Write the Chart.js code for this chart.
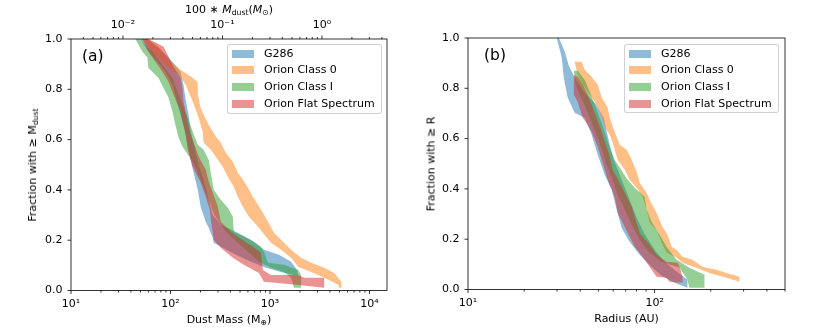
<!DOCTYPE html>
<html><head><meta charset="utf-8">
<script src="https://cdn.jsdelivr.net/npm/chart.js@4/dist/chart.umd.min.js"></script>
<style>
html,body{margin:0;padding:0;background:#fff}
body{width:830px;height:332px;overflow:hidden;position:relative;font-family:'DejaVu Sans',sans-serif;color:#000}
canvas{position:absolute;top:0}
#ca{left:0}#cb{left:415px}
.t{position:absolute;font-size:11px;white-space:nowrap;line-height:11px}
.c{transform:translateX(-50%)}
.r{transform:translate(-50%,-50%) rotate(-90deg)}
.sub{font-size:70%;position:relative;top:0.3em}
.pl{position:absolute;font-size:15.5px;line-height:16px}
.leg{position:absolute;border:1px solid rgba(204,204,204,0.9);border-radius:3px;background:rgba(255,255,255,0.8);box-sizing:border-box}
.row{position:absolute;left:0;height:12px;width:100%}
.sw{position:absolute;left:4px;width:22px;height:8px;top:2px}
.lt{position:absolute;left:36px;top:0;font-size:11px;line-height:12px;white-space:nowrap}
</style></head>
<body>
<canvas id="ca" width="415" height="332"></canvas>
<canvas id="cb" width="415" height="332"></canvas>

<div class="t c" style="left:229px;top:4px">100 ∗ <i>M</i><span class="sub">dust</span>(<i>M</i><span class="sub">⊙</span>)</div>
<div class="t r" style="left:33px;top:165px">Fraction with ≥ M<span class="sub">dust</span></div>
<div class="t c" style="left:229px;top:314px">Dust Mass (M<span class="sub">⊕</span>)</div>
<div class="pl" style="left:82px;top:48px">(a)</div>

<div class="t r" style="left:431px;top:164px">Fraction with ≥ R</div>
<div class="t c" style="left:626.5px;top:313px">Radius (AU)</div>
<div class="pl" style="left:484px;top:47px">(b)</div>

<div id="legA" class="leg" style="left:227px;top:44px;width:155px;height:70px"></div>
<div id="legB" class="leg" style="left:624px;top:44px;width:155px;height:69px"></div>

<script>
// ---------- data ----------
const seriesNames = ['G286', 'Orion Class 0', 'Orion Class I', 'Orion Flat Spectrum'];
const fractionTicks = [0, 0.2, 0.4, 0.6, 0.8, 1.0];
const massDecades = [10, 100, 1000, 10000];
const topDecades = [0.01, 0.1, 1];
const radiusDecades = [10, 100];

// panel (a): dust mass (M_earth) vs fraction; band edges [mass, fraction]
const g286MassLeft = [[49.8,1.0],[59.9,0.95],[73.9,0.91],[88.9,0.87],[104.7,0.818],[115,0.759],[126,0.699],[138,0.64],[149,0.58],[159,0.52],[171,0.468],[188,0.401],[201,0.333],[226,0.273],[242,0.25],[266,0.21],[272,0.19],[335,0.17],[454,0.142],[643,0.114],[912,0.09],[1291,0.074],[1746,0.062]];
const g286MassRight = [[58.6,1.0],[79.2,0.958],[104.7,0.91],[126,0.87],[135,0.818],[142,0.759],[152,0.699],[159,0.64],[171,0.58],[192,0.5],[215,0.441],[242,0.361],[266,0.301],[320,0.261],[454,0.234],[643,0.202],[869,0.162],[1233,0.142],[1629,0.114],[1874,0.082],[1918,0.062]];

const class0MassLeft = [[53.4,1.0],[65.8,0.95],[88.9,0.898],[120.5,0.858],[142,0.818],[167,0.751],[192,0.687],[210,0.632],[215,0.588],[254,0.56],[299,0.52],[335,0.492],[377,0.452],[433,0.413],[475,0.373],[534,0.333],[614,0.293],[756,0.254],[912,0.214],[1023,0.19],[1291,0.162],[1629,0.13],[1918,0.094],[2594,0.074],[3508,0.051],[4864,0.023],[4977,0.011]];
const class0MassRight = [[60,1.0],[75,0.97],[95,0.92],[126,0.878],[167,0.846],[188,0.827],[188,0.779],[201,0.727],[215,0.699],[242,0.659],[285,0.612],[320,0.588],[359,0.548],[423,0.512],[475,0.468],[534,0.441],[600,0.409],[673,0.373],[756,0.341],[849,0.309],[955,0.273],[1096,0.23],[1384,0.19],[1629,0.162],[2056,0.13],[2594,0.11],[3508,0.09],[4426,0.07],[5212,0.035],[5212,0.011]];

const class1MassLeft = [[44.3,1.0],[52.1,0.95],[58.6,0.926],[59.9,0.886],[75.6,0.846],[84.9,0.806],[95.5,0.767],[104.7,0.711],[112,0.659],[120.5,0.608],[132,0.572],[150,0.54],[175,0.5],[201,0.44],[225,0.39],[250,0.345],[275,0.301],[320,0.261],[385,0.222],[475,0.19],[600,0.154],[774,0.114],[1023,0.09],[1384,0.074],[1629,0.051],[1746,0.011]];
const class1MassRight = [[49.8,1.0],[58.6,0.966],[65.8,0.95],[83,0.898],[104.7,0.846],[117.8,0.791],[132,0.739],[149,0.687],[167,0.632],[188,0.58],[215,0.56],[242,0.52],[254,0.468],[272,0.401],[320,0.361],[377,0.329],[423,0.293],[433,0.234],[546,0.214],[689,0.194],[811,0.174],[869,0.154],[955,0.11],[1384,0.102],[1918,0.082],[2056,0.062],[2056,0.011]];

const flatMassLeft = [[52.1,1.0],[59.9,0.95],[70.5,0.91],[83,0.87],[95.5,0.83],[107,0.779],[126,0.711],[135,0.659],[142,0.62],[149,0.56],[167,0.492],[201,0.429],[226,0.373],[248,0.321],[256,0.273],[272,0.202],[320,0.17],[423,0.13],[546,0.102],[774,0.07],[869,0.035],[1831,0.023],[3508,0.011]];
const flatMassRight = [[58.6,1.0],[67.3,0.99],[84.9,0.97],[95.5,0.93],[107,0.89],[126,0.846],[132,0.806],[135,0.751],[149,0.671],[159,0.62],[171,0.588],[192,0.532],[226,0.48],[242,0.433],[266,0.389],[299,0.333],[320,0.273],[404,0.234],[475,0.214],[673,0.174],[811,0.15],[849,0.082],[1023,0.062],[1918,0.062],[2203,0.051],[3508,0.051]];

// panel (b): radius (AU) vs fraction; band edges [radius, fraction]
const g286RadiusLeft = [[29.9,1.0],[31.8,0.922],[32.6,0.842],[34.2,0.763],[37.3,0.703],[42.2,0.683],[46.0,0.615],[49.6,0.536],[54.0,0.456],[58.9,0.397],[62.6,0.318],[66.6,0.245],[73.5,0.19],[83.2,0.138],[96.4,0.09],[109,0.055],[127.9,0.027],[150,0.007]];
const g286RadiusRight = [[30.7,1.0],[33.0,0.946],[34.7,0.89],[37.3,0.842],[41.7,0.786],[48.3,0.739],[53.4,0.683],[55.4,0.627],[57.5,0.576],[60.4,0.516],[65.0,0.456],[71.7,0.377],[80.1,0.285],[88.4,0.221],[100,0.158],[113,0.11],[127.9,0.079],[150,0.039]];

const class0RadiusLeft = [[37.3,0.906],[38.7,0.854],[41.2,0.814],[43.8,0.786],[47.8,0.747],[50.8,0.707],[54.0,0.647],[57.5,0.615],[59.6,0.584],[63.4,0.516],[69.2,0.476],[73.5,0.436],[80.1,0.405],[86.2,0.369],[90.6,0.318],[94.0,0.265],[102.5,0.237],[109,0.186],[115.9,0.146],[131.1,0.126],[141.2,0.106],[167.7,0.086],[196.7,0.066],[242.9,0.047],[284.8,0.031],[284.8,0.011]];
const class0RadiusRight = [[40.7,0.906],[42.2,0.874],[46.0,0.846],[49.6,0.814],[52.1,0.763],[56.1,0.723],[57.5,0.683],[61.1,0.627],[65.0,0.576],[70.9,0.556],[75.4,0.516],[80.1,0.468],[83.2,0.424],[90.6,0.385],[94.0,0.357],[102.5,0.305],[110.3,0.249],[117.4,0.218],[123.3,0.17],[131.1,0.158],[141.2,0.13],[159.5,0.118],[180.6,0.09],[214.6,0.079],[242.9,0.066],[284.8,0.051]];

const class1RadiusLeft = [[36.9,0.87],[37.8,0.814],[39.7,0.774],[42.2,0.735],[44.9,0.683],[48.9,0.615],[52.1,0.556],[55.4,0.496],[59.6,0.436],[63.4,0.377],[69.2,0.318],[75.4,0.257],[83.2,0.198],[94.0,0.146],[109,0.11],[136.1,0.086],[150,0.039],[153.8,0.007],[185.1,0.007]];
const class1RadiusRight = [[38.7,0.87],[42.2,0.834],[44.9,0.786],[47.8,0.735],[50.8,0.683],[54.0,0.627],[57.5,0.564],[61.1,0.516],[71,0.44],[78.2,0.405],[88.4,0.369],[90.6,0.318],[96.4,0.269],[106.4,0.218],[115.9,0.17],[131.1,0.118],[153.8,0.086],[185.1,0.059]];

const flatRadiusLeft = [[36.9,0.854],[36.9,0.774],[38.7,0.747],[41.2,0.683],[43.8,0.655],[46.0,0.627],[49.6,0.568],[52.7,0.504],[56.1,0.436],[61.1,0.369],[63.4,0.305],[69.2,0.249],[78.2,0.17],[86.2,0.13],[94.0,0.09],[102.5,0.051],[115.9,0.047],[120.3,0.031],[141.2,0.027]];
const flatRadiusRight = [[38.7,0.846],[41.2,0.814],[43.8,0.774],[46.0,0.735],[48.9,0.683],[52.1,0.627],[54.0,0.588],[56.1,0.556],[57.5,0.528],[59.6,0.476],[65.0,0.424],[70.9,0.369],[75.4,0.329],[78.2,0.289],[83.2,0.225],[94.0,0.178],[102.5,0.138],[115.9,0.11],[132.8,0.106],[136.1,0.09],[141.2,0.051]];

// ---------- styling ----------
const seriesColors = ['rgba(31,119,180,0.5)','rgba(255,127,14,0.5)','rgba(44,160,44,0.5)','rgba(214,39,40,0.5)'];
const FONT = {family:'DejaVu Sans', size:11};
const EARTH_TO_TOP = 100 / 333000; // 100 * M_dust in solar masses

function band(left, right) {
  return left.concat(right.slice().reverse()).map(([x, y]) => ({x, y}));
}
const SUP = {'-':'⁻','0':'⁰','1':'¹','2':'²','3':'³','4':'⁴','5':'⁵','6':'⁶','7':'⁷','8':'⁸','9':'⁹'};
function powLabel(decades) {
  return (v) => {
    const hit = decades.find(d => Math.abs(Math.log10(v) - Math.log10(d)) < 1e-6);
    if (hit === undefined) return '';
    const e = String(Math.round(Math.log10(hit)));
    return '10' + e.split('').map(ch => SUP[ch]).join('');
  };
}

const frameTicks = {
  id: 'frameTicks',
  afterDatasetsDraw(chart) {
    const {ctx, chartArea: a, scales} = chart;
    ctx.save();
    ctx.strokeStyle = '#000';
    ctx.lineWidth = 0.8;
    const logTicks = (scale, y0, dir) => {
      const lo = Math.floor(Math.log10(scale.min)), hi = Math.ceil(Math.log10(scale.max));
      for (let k = lo; k <= hi; k++) {
        for (let m = 1; m < 10; m++) {
          const v = m * Math.pow(10, k);
          if (v < scale.min * 0.9999 || v > scale.max * 1.0001) continue;
          const px = scale.getPixelForValue(v);
          const len = m === 1 ? 3.5 : 2;
          ctx.beginPath(); ctx.moveTo(px, y0); ctx.lineTo(px, y0 + dir * len); ctx.stroke();
        }
      }
    };
    logTicks(scales.x, a.bottom, 1);
    if (scales.x2) logTicks(scales.x2, a.top, -1);
    fractionTicks.forEach(v => {
      const py = scales.y.getPixelForValue(v);
      ctx.beginPath(); ctx.moveTo(a.left, py); ctx.lineTo(a.left - 3.5, py); ctx.stroke();
    });
    ctx.strokeRect(a.left, a.top, a.right - a.left, a.bottom - a.top);
    ctx.restore();
  }
};

function makeChart(id, bands, xMin, xMax, decades, geo, top) {
  const datasets = bands.map((pts, i) => ({
    label: seriesNames[i],
    data: pts,
    xAxisID: 'x', yAxisID: 'y',
    backgroundColor: seriesColors[i],
    borderColor: 'rgba(0,0,0,0)',
    borderWidth: 0,
    pointRadius: 0,
    fill: 'shape',
    order: 4 - i
  }));
  const tickCommon = {autoSkip: false, maxRotation: 0, minRotation: 0, font: FONT, color: '#000'};
  const scales = {
    x: {
      type: 'logarithmic', position: 'bottom', min: xMin, max: xMax,
      grid: {display: false, drawTicks: false}, border: {display: false},
      ticks: Object.assign({}, tickCommon, {padding: 7, callback: powLabel(decades)}),
      afterFit(s) { s.height = geo.bottomH; }
    },
    y: {
      type: 'linear', position: 'left', min: 0, max: 1,
      grid: {display: false, drawTicks: false}, border: {display: false},
      ticks: Object.assign({}, tickCommon, {padding: 8.5, stepSize: 0.2, callback: v => Number(v).toFixed(1)}),
      afterFit(s) { s.width = geo.left; }
    }
  };
  if (top) {
    scales.x2 = {
      type: 'logarithmic', axis: 'x', position: 'top', min: xMin * EARTH_TO_TOP, max: xMax * EARTH_TO_TOP,
      grid: {display: false, drawTicks: false}, border: {display: false},
      ticks: Object.assign({}, tickCommon, {padding: 7, callback: powLabel(topDecades)}),
      afterFit(s) { s.height = geo.top; }
    };
  }
  return new Chart(document.getElementById(id), {
    type: 'line',
    data: {datasets},
    options: {
      responsive: false, animation: false, devicePixelRatio: 1,
      layout: {padding: {left: 0, right: geo.right, top: top ? 0 : geo.top, bottom: 0}},
      plugins: {legend: {display: false}, tooltip: {enabled: false}},
      elements: {line: {tension: 0}},
      scales
    },
    plugins: [frameTicks]
  });
}

makeChart('ca',
  [band(g286MassLeft, g286MassRight), band(class0MassLeft, class0MassRight),
   band(class1MassLeft, class1MassRight), band(flatMassLeft, flatMassRight)],
  10, 15000, massDecades, {left: 71, right: 28, top: 39, bottomH: 41.5}, true);

makeChart('cb',
  [band(g286RadiusLeft, g286RadiusRight), band(class0RadiusLeft, class0RadiusRight),
   band(class1RadiusLeft, class1RadiusRight), band(flatRadiusLeft, flatRadiusRight)],
  10, 500, radiusDecades, {left: 53, right: 45, top: 38, bottomH: 42.5}, false);

// legends
['legA', 'legB'].forEach(id => {
  const box = document.getElementById(id);
  seriesNames.forEach((name, i) => {
    const row = document.createElement('div');
    row.className = 'row';
    row.style.top = (2.5 + i * 16.7) + 'px';
    row.innerHTML = '<div class="sw" style="background:' + seriesColors[i] + '"></div><div class="lt">' + name + '</div>';
    box.appendChild(row);
  });
});
</script>
</body></html>
